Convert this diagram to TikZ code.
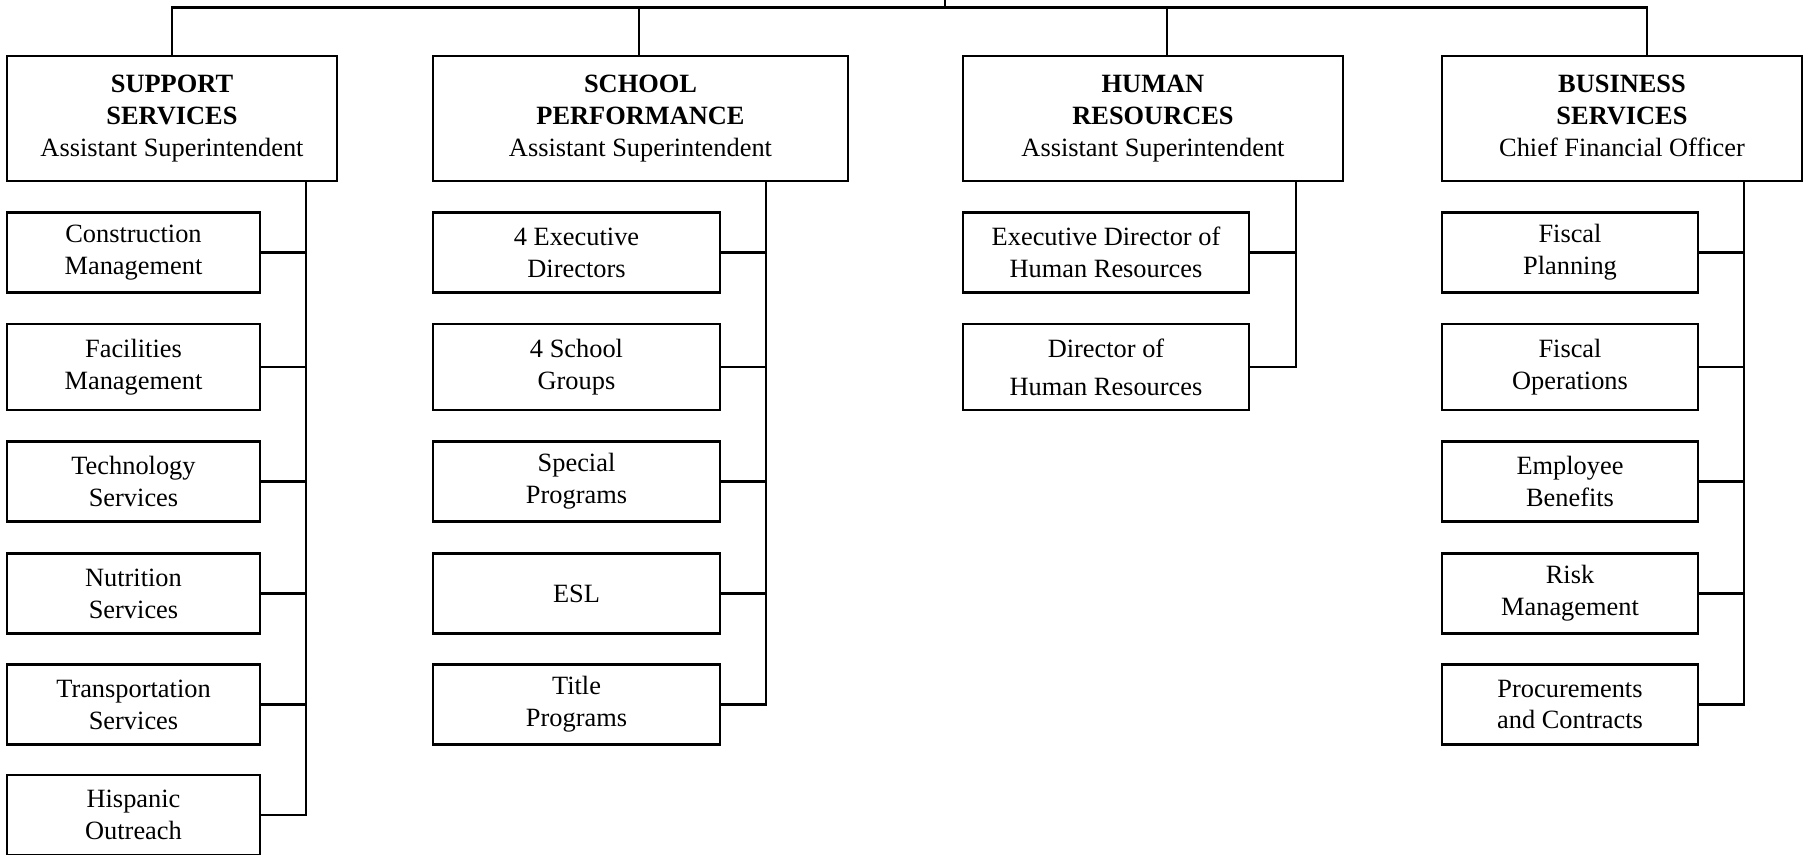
\documentclass[tikz,border=0pt]{standalone}
\usepackage{fontspec}
\setmainfont{Liberation Serif}
\usetikzlibrary{positioning}

\begin{document}
\begin{tikzpicture}[x=0.47pt, y=-0.47pt,
    every node/.style={font=\fontsize{12.4}{15}\selectfont},
    headbox/.style={draw, line width=1.1pt, align=center, inner sep=1pt, minimum height=58.8pt, minimum width=#1},
    unitbox/.style={draw, line width=1.1pt, align=center, inner sep=1pt, minimum height=37.6pt, minimum width=#1},
    link/.style={line width=1.1pt}]
    \useasboundingbox (0,0) rectangle (1803,855);

    % department heads
    \node[headbox=155.1pt] (sup) at (172,118.5) {\textbf{SUPPORT}\\\textbf{SERVICES}\\Assistant Superintendent};
    \node[headbox=195.1pt] (sch) at (640.5,118.5) {\textbf{SCHOOL}\\\textbf{PERFORMANCE}\\Assistant Superintendent};
    \node[headbox=178.6pt] (hr) at (1153,118.5) {\textbf{HUMAN}\\\textbf{RESOURCES}\\Assistant Superintendent};
    \node[headbox=169.2pt] (biz) at (1622,118.5) {\textbf{BUSINESS}\\\textbf{SERVICES}\\Chief Financial Officer\vphantom{p}};

    % support services
    \node[unitbox=118.9pt] (sup1) at (133.5,252.5) {Construction\\Management};
    \node[unitbox=118.9pt, minimum height=40.4pt] (sup2) at (133.5,367) {Facilities\\Management};
    \node[unitbox=118.9pt] (sup3) at (133.5,481.5) {Technology\\Services};
    \node[unitbox=118.9pt] (sup4) at (133.5,593.5) {Nutrition\\Services};
    \node[unitbox=118.9pt] (sup5) at (133.5,704.5) {Transportation\\Services};
    \node[unitbox=118.9pt] (sup6) at (133.5,815) {Hispanic\\Outreach};

    % school performance
    \node[unitbox=134.9pt] (sch1) at (576.5,252.5) {4 Executive\\Directors};
    \node[unitbox=134.9pt, minimum height=40.4pt] (sch2) at (576.5,367) {4 School\\Groups};
    \node[unitbox=134.9pt] (sch3) at (576.5,481.5) {Special\\Programs};
    \node[unitbox=134.9pt] (sch4) at (576.5,593.5) {ESL};
    \node[unitbox=134.9pt] (sch5) at (576.5,704.5) {Title\\Programs};

    % human resources
    \node[unitbox=134.4pt] (hr1) at (1106,252.5) {Executive Director of\\Human Resources};
    \node[unitbox=134.4pt, minimum height=40.4pt] (hr2) at (1106,367) {Director of\\[3pt]Human Resources};

    % business services
    \node[unitbox=120.3pt] (biz1) at (1570,252.5) {Fiscal\\Planning};
    \node[unitbox=120.3pt, minimum height=40.4pt] (biz2) at (1570,367) {Fiscal\\Operations};
    \node[unitbox=120.3pt] (biz3) at (1570,481.5) {Employee\\Benefits};
    \node[unitbox=120.3pt] (biz4) at (1570,593.5) {Risk\\Management};
    \node[unitbox=120.3pt] (biz5) at (1570,704.5) {Procurements\\and Contracts};

    % top bus
    \coordinate (root) at (945,0);
    \coordinate (bus) at (945,7.5);
    \coordinate (schdrop) at (639,7.5);
    \coordinate (hrdrop) at (1167,7.5);
    \coordinate (bizdrop) at (1647,7.5);
    \draw[link] (root) -- (bus);
    \draw[link] (sup.north) |- (bus) -| (biz.north -| bizdrop);
    \draw[link] (schdrop) -- (sch.north -| schdrop);
    \draw[link] (hrdrop) -- (hr.north -| hrdrop);

    % branches
    \coordinate (supbr) at (306,0);
    \coordinate (schbr) at (766,0);
    \coordinate (hrbr) at (1296,0);
    \coordinate (bizbr) at (1744,0);
    \draw[link] (sup.south -| supbr) |- (sup6.east);
    \draw[link] (sup1.east) -- (sup1.east -| supbr) (sup2.east) -- (sup2.east -| supbr) (sup3.east) -- (sup3.east -| supbr)
        (sup4.east) -- (sup4.east -| supbr) (sup5.east) -- (sup5.east -| supbr);
    \draw[link] (sch.south -| schbr) |- (sch5.east);
    \draw[link] (sch1.east) -- (sch1.east -| schbr) (sch2.east) -- (sch2.east -| schbr) (sch3.east) -- (sch3.east -| schbr)
        (sch4.east) -- (sch4.east -| schbr);
    \draw[link] (hr.south -| hrbr) |- (hr2.east);
    \draw[link] (hr1.east) -- (hr1.east -| hrbr);
    \draw[link] (biz.south -| bizbr) |- (biz5.east);
    \draw[link] (biz1.east) -- (biz1.east -| bizbr) (biz2.east) -- (biz2.east -| bizbr) (biz3.east) -- (biz3.east -| bizbr)
        (biz4.east) -- (biz4.east -| bizbr);
\end{tikzpicture}
\end{document}
